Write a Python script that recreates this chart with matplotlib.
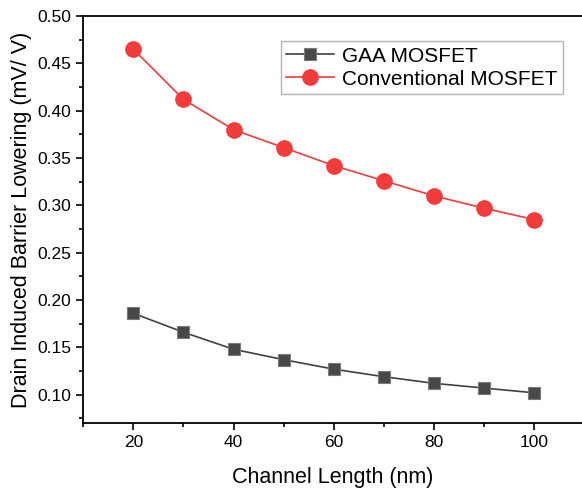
import matplotlib.pyplot as plt
from matplotlib.ticker import MultipleLocator

plt.rcParams['font.family'] = ['Liberation Sans', 'DejaVu Sans']

# Data
channel_length = [20, 30, 40, 50, 60, 70, 80, 90, 100]
gaa_dibl = [0.186, 0.166, 0.148, 0.137, 0.127, 0.119, 0.112, 0.107, 0.102]
conv_dibl = [0.465, 0.412, 0.380, 0.361, 0.342, 0.326, 0.310, 0.297, 0.285]

fig = plt.figure(figsize=(5.82, 4.88), dpi=100)
ax = fig.add_axes([0.143, 0.133, 0.857, 0.834])

ax.plot(channel_length, gaa_dibl, marker='s', color='#404040', lw=1.2,
        markersize=9, markerfacecolor='#484848', markeredgecolor='#7a7a7a',
        markeredgewidth=0.8, label='GAA MOSFET')
ax.plot(channel_length, conv_dibl, marker='o', color='#f03c3c', lw=1.2,
        markersize=11, markerfacecolor='#f23c3c', markeredgecolor='#f23c3c',
        label='Conventional MOSFET')

ax.set_xlim(10, 109.5)
ax.set_ylim(0.07, 0.50)
ax.xaxis.set_major_locator(MultipleLocator(20))
ax.xaxis.set_minor_locator(MultipleLocator(10))
ax.yaxis.set_major_locator(MultipleLocator(0.05))
ax.yaxis.set_minor_locator(MultipleLocator(0.025))
ax.yaxis.set_major_formatter(plt.FormatStrFormatter('%.2f'))
ax.set_xticks([20, 40, 60, 80, 100])

ax.tick_params(which='major', direction='out', length=5, width=1.2, labelsize=12.5)
ax.tick_params(which='minor', direction='out', length=3, width=1.2)
for side in ['left', 'bottom', 'top']:
    ax.spines[side].set_linewidth(1.3)
ax.spines['right'].set_visible(False)

ax.set_xlabel('Channel Length (nm)', fontsize=15.5, labelpad=12)
ax.set_ylabel('Drain Induced Barrier Lowering (mV/ V)', fontsize=15.5, labelpad=4)

leg = ax.legend(loc='upper right', bbox_to_anchor=(0.962, 0.938), fontsize=15,
                frameon=True, fancybox=False, edgecolor='#a0a0a0',
                handlelength=2.3, borderpad=0.25, labelspacing=0.2,
                handletextpad=0.4, borderaxespad=0)
leg.get_frame().set_linewidth(1.0)

plt.savefig('out.png', dpi=100)
